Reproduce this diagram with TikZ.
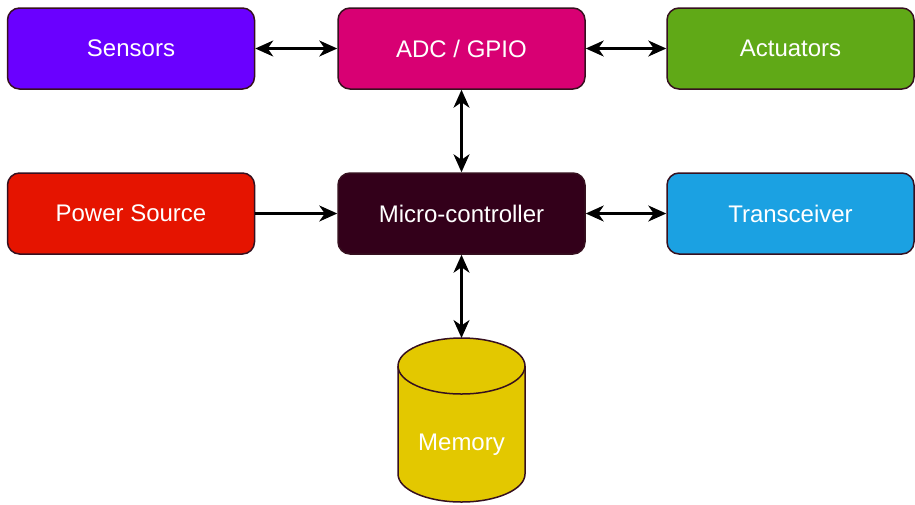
\documentclass[tikz,border=0pt]{standalone}
\usepackage{fontspec}
\setmainfont{Liberation Sans}
\usetikzlibrary{arrows.meta}

\definecolor{edgeC}{HTML}{36101F}
\definecolor{sensorC}{HTML}{6A00FF}
\definecolor{adcC}{HTML}{D80073}
\definecolor{actC}{HTML}{60A917}
\definecolor{powerC}{HTML}{E51400}
\definecolor{mcuC}{HTML}{33001A}
\definecolor{trxC}{HTML}{1BA1E2}
\definecolor{memC}{HTML}{E3C800}

\tikzset{
  block/.style={draw=edgeC, line width=1.5pt, rounded corners=12pt,
    minimum width=247pt, minimum height=81pt, inner sep=0pt,
    text=white, font=\fontsize{24}{28}\selectfont},
  link/.style={line width=2.2pt, black, {Stealth[length=18pt,width=16pt,inset=5.5pt]}-{Stealth[length=18pt,width=16pt,inset=5.5pt]}},
  feed/.style={line width=2.2pt, black, -{Stealth[length=18pt,width=16pt,inset=5.5pt]}}
}

\begin{document}
\begin{tikzpicture}[x=1pt, y=-1pt]
  \useasboundingbox (0,0) rectangle (915,504);

  % top row
  \node[block, fill=sensorC] (sens) at (131,48.5) {Sensors};
  \node[block, fill=adcC]    (adc)  at (461.5,48.5) {ADC / GPIO};
  \node[block, fill=actC]    (act)  at (790.5,48.5) {Actuators};

  % middle row
  \node[block, fill=powerC]  (pwr)  at (131,213.5) {Power Source};
  \node[block, fill=mcuC]    (mcu)  at (461.5,213.5) {Micro-controller};
  \node[block, fill=trxC]    (trx)  at (790.5,213.5) {Transceiver};

  % memory cylinder (y axis points down, so angle 270 is the top of an ellipse)
  \coordinate (memtop) at (461.5,338);
  \fill[memC] (398,366) arc[start angle=180, end angle=360, x radius=63.5, y radius=28]
    -- (525,474) arc[start angle=0, end angle=180, x radius=63.5, y radius=28] -- cycle;
  \draw[edgeC, line width=1.5pt] (398,366) arc[start angle=180, end angle=-180, x radius=63.5, y radius=28];
  \draw[edgeC, line width=1.5pt] (398,366) -- (398,474)
    arc[start angle=180, end angle=0, x radius=63.5, y radius=28] -- (525,366);
  \node[text=white, font=\fontsize{24}{28}\selectfont] (mem) at (461.5,445) {Memory};

  % connectors
  \draw[link] (sens.east) -- (adc.west);
  \draw[link] (adc.east) -- (act.west);
  \draw[link] (adc.south) -- (mcu.north);
  \draw[feed] (pwr.east) -- (mcu.west);
  \draw[link] (mcu.east) -- (trx.west);
  \draw[link] (mcu.south) -- (memtop);
\end{tikzpicture}
\end{document}
